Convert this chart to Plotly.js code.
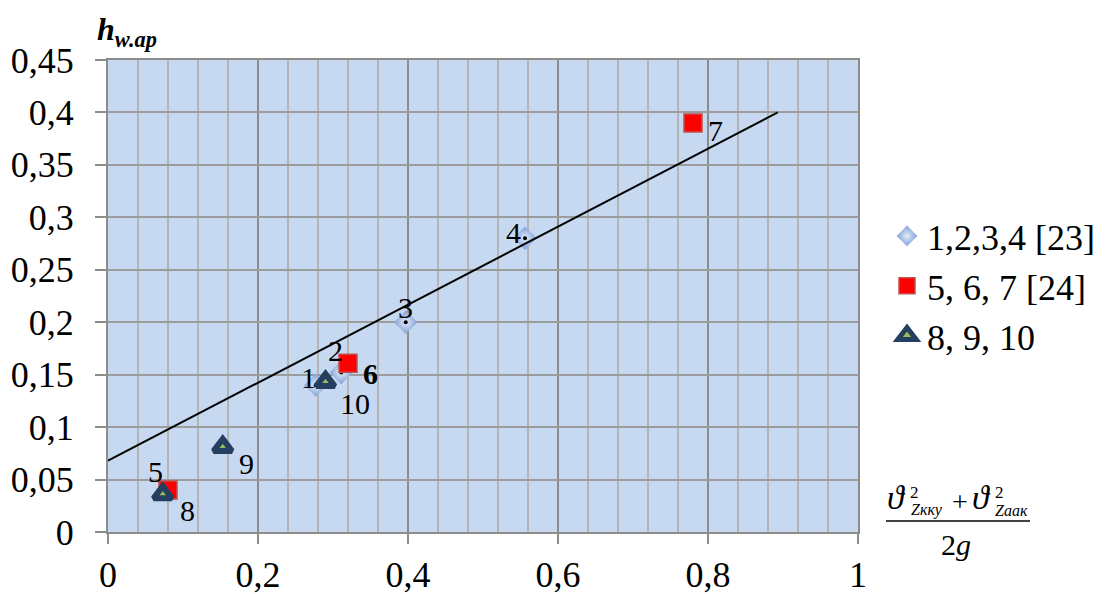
<!DOCTYPE html>
<html>
<head>
<meta charset="utf-8">
<script src="https://cdn.plot.ly/plotly-3.0.1.min.js"></script>
<style>html,body{margin:0;padding:0;background:#fff;}#chart{width:1106px;height:594px;}</style>
</head>
<body>
<div id="chart"></div>
<script>
// ---- data ----
const s1Name = '1,2,3,4 [23]';
const s1X = [0.277, 0.311, 0.397, 0.556];
const s1Y = [0.140, 0.152, 0.200, 0.280];
const s1Labels = ['1', '2', '3', '4'];

const s2Name = '5, 6, 7 [24]';
const s2X = [0.080, 0.320, 0.780];
const s2Y = [0.040, 0.161, 0.390];
const s2Labels = ['5', '<b>6</b>', '7'];

const s3Name = '8, 9, 10';
const s3X = [0.073, 0.153, 0.290];
const s3Y = [0.036, 0.081, 0.143];
const s3Labels = ['8', '9', '10'];

const trendX = [0, 0.893];
const trendY = [0.068, 0.400];

const xTickVals = [0, 0.2, 0.4, 0.6, 0.8, 1];
const yTickVals = [0, 0.05, 0.1, 0.15, 0.2, 0.25, 0.3, 0.35, 0.4, 0.45];

// ---- label offsets (pixels, style only) ----
const s1Off = [[-7, -8], [-6, -22], [0, -15], [-12, -6]];
const s2Off = [[-13, -19], [22, 10], [22, 8]];
const s3Off = [[25, 16], [24, 16], [29, 21]];

const FONT = 'Liberation Serif, Times New Roman, serif';

// plot area in pixels
const L = 108, R = 858, T = 60, B = 532;
const px = x => (x - L) / (R - L);
const py = y => (B - y) / (B - T);

const traces = [
  {
    type: 'scatter', mode: 'markers', name: s1Name, x: s1X, y: s1Y,
    marker: { symbol: 'diamond', size: 18, color: '#7f9fd8',
      gradient: { type: 'radial', color: '#e4ecf8' }, line: { width: 0 } }
  },
  {
    type: 'scatter', mode: 'markers', showlegend: false, hoverinfo: 'skip', x: s1X, y: s1Y,
    marker: { symbol: 'circle', size: 4, color: '#000000', line: { width: 0 } }
  },
  {
    type: 'scatter', mode: 'markers', name: s2Name, x: s2X, y: s2Y,
    marker: { symbol: 'square', size: 18, color: '#ff0000', line: { color: '#c0504d', width: 1.5 } }
  },
  {
    type: 'scatter', mode: 'markers', name: s3Name, x: s3X, y: s3Y,
    marker: { symbol: 'triangle-up', size: 16, color: '#9bbb59', line: { color: '#243f60', width: 6 } }
  },
  {
    type: 'scatter', mode: 'lines', showlegend: false, hoverinfo: 'skip', x: trendX, y: trendY,
    line: { color: '#000000', width: 2 }
  }
];

const annotations = [];
function addLabels(xs, ys, labels, offs) {
  labels.forEach((t, i) => {
    annotations.push({
      x: xs[i], y: ys[i], xref: 'x', yref: 'y', text: t, showarrow: false,
      xshift: offs[i][0], yshift: -offs[i][1],
      font: { family: FONT, size: 30, color: '#000' }
    });
  });
}
addLabels(s1X, s1Y, s1Labels, s1Off);
addLabels(s2X, s2Y, s2Labels, s2Off);
addLabels(s3X, s3Y, s3Labels, s3Off);

// y-axis title
annotations.push({
  xref: 'paper', yref: 'paper', x: px(95), y: py(31), xanchor: 'left', yanchor: 'middle',
  text: '<b><i>h</i></b><sub><b><i>w.ap</i></b></sub>', showarrow: false,
  font: { family: FONT, size: 32, color: '#000' }
});
// x-axis title (fraction)
const fr = [
  { t: '<i>ϑ</i>', x: 885, y: 497, s: 34 },
  { t: '2', x: 908, y: 492, s: 17 },
  { t: '<i>Zкку</i>', x: 909, y: 510, s: 16 },
  { t: '+', x: 950, y: 501, s: 28 },
  { t: '<i>ϑ</i>', x: 970, y: 497, s: 34 },
  { t: '2', x: 993, y: 492, s: 17 },
  { t: '<i>Zaaк</i>', x: 993, y: 510, s: 16 },
  { t: '2<i>g</i>', x: 939, y: 544, s: 30 }
];
fr.forEach(f => annotations.push({
  xref: 'paper', yref: 'paper', x: px(f.x), y: py(f.y), xanchor: 'left', yanchor: 'middle',
  text: f.t, showarrow: false, font: { family: FONT, size: f.s, color: '#000' }
}));

const layout = {
  width: 1106, height: 594,
  margin: { l: L, r: 1106 - R, t: T, b: 594 - B, pad: 0, autoexpand: false },
  paper_bgcolor: '#ffffff', plot_bgcolor: '#c6d9f1',
  separators: ', ',
  font: { family: FONT, color: '#000' },
  showlegend: true,
  legend: {
    x: px(887), y: py(286), xanchor: 'left', yanchor: 'middle',
    font: { family: FONT, size: 36, color: '#000' }, bgcolor: 'rgba(0,0,0,0)'
  },
  xaxis: {
    range: [0, 1], tickvals: xTickVals, ticks: 'outside', ticklen: 10, tickwidth: 2, tickcolor: '#8c8c8c',
    showline: true, linecolor: '#8c8c8c', linewidth: 2, mirror: true,
    showgrid: true, gridcolor: '#8c8c8c', gridwidth: 2, zeroline: false,
    minor: { dtick: 0.04, showgrid: true, gridcolor: '#b4b4b4', gridwidth: 2, ticks: '' },
    tickfont: { family: FONT, size: 36, color: '#000' }, ticklabelstandoff: 0,
    fixedrange: true, automargin: false
  },
  yaxis: {
    range: [0, 0.45], tickvals: yTickVals, ticks: 'outside', ticklen: 11, tickwidth: 2, tickcolor: '#8c8c8c',
    showline: true, linecolor: '#8c8c8c', linewidth: 2, mirror: true,
    showgrid: true, gridcolor: '#9c9c9c', gridwidth: 2, zeroline: false,
    tickfont: { family: FONT, size: 36, color: '#000' }, ticklabelstandoff: 14,
    fixedrange: true, automargin: false
  },
  shapes: [
    { type: 'line', xref: 'paper', yref: 'paper', x0: px(886), x1: px(1030), y0: py(521), y1: py(521),
      line: { color: '#000', width: 1.5 } }
  ],
  annotations: annotations
};

Plotly.newPlot('chart', traces, layout, { displayModeBar: false, staticPlot: true });
</script>
</body>
</html>
